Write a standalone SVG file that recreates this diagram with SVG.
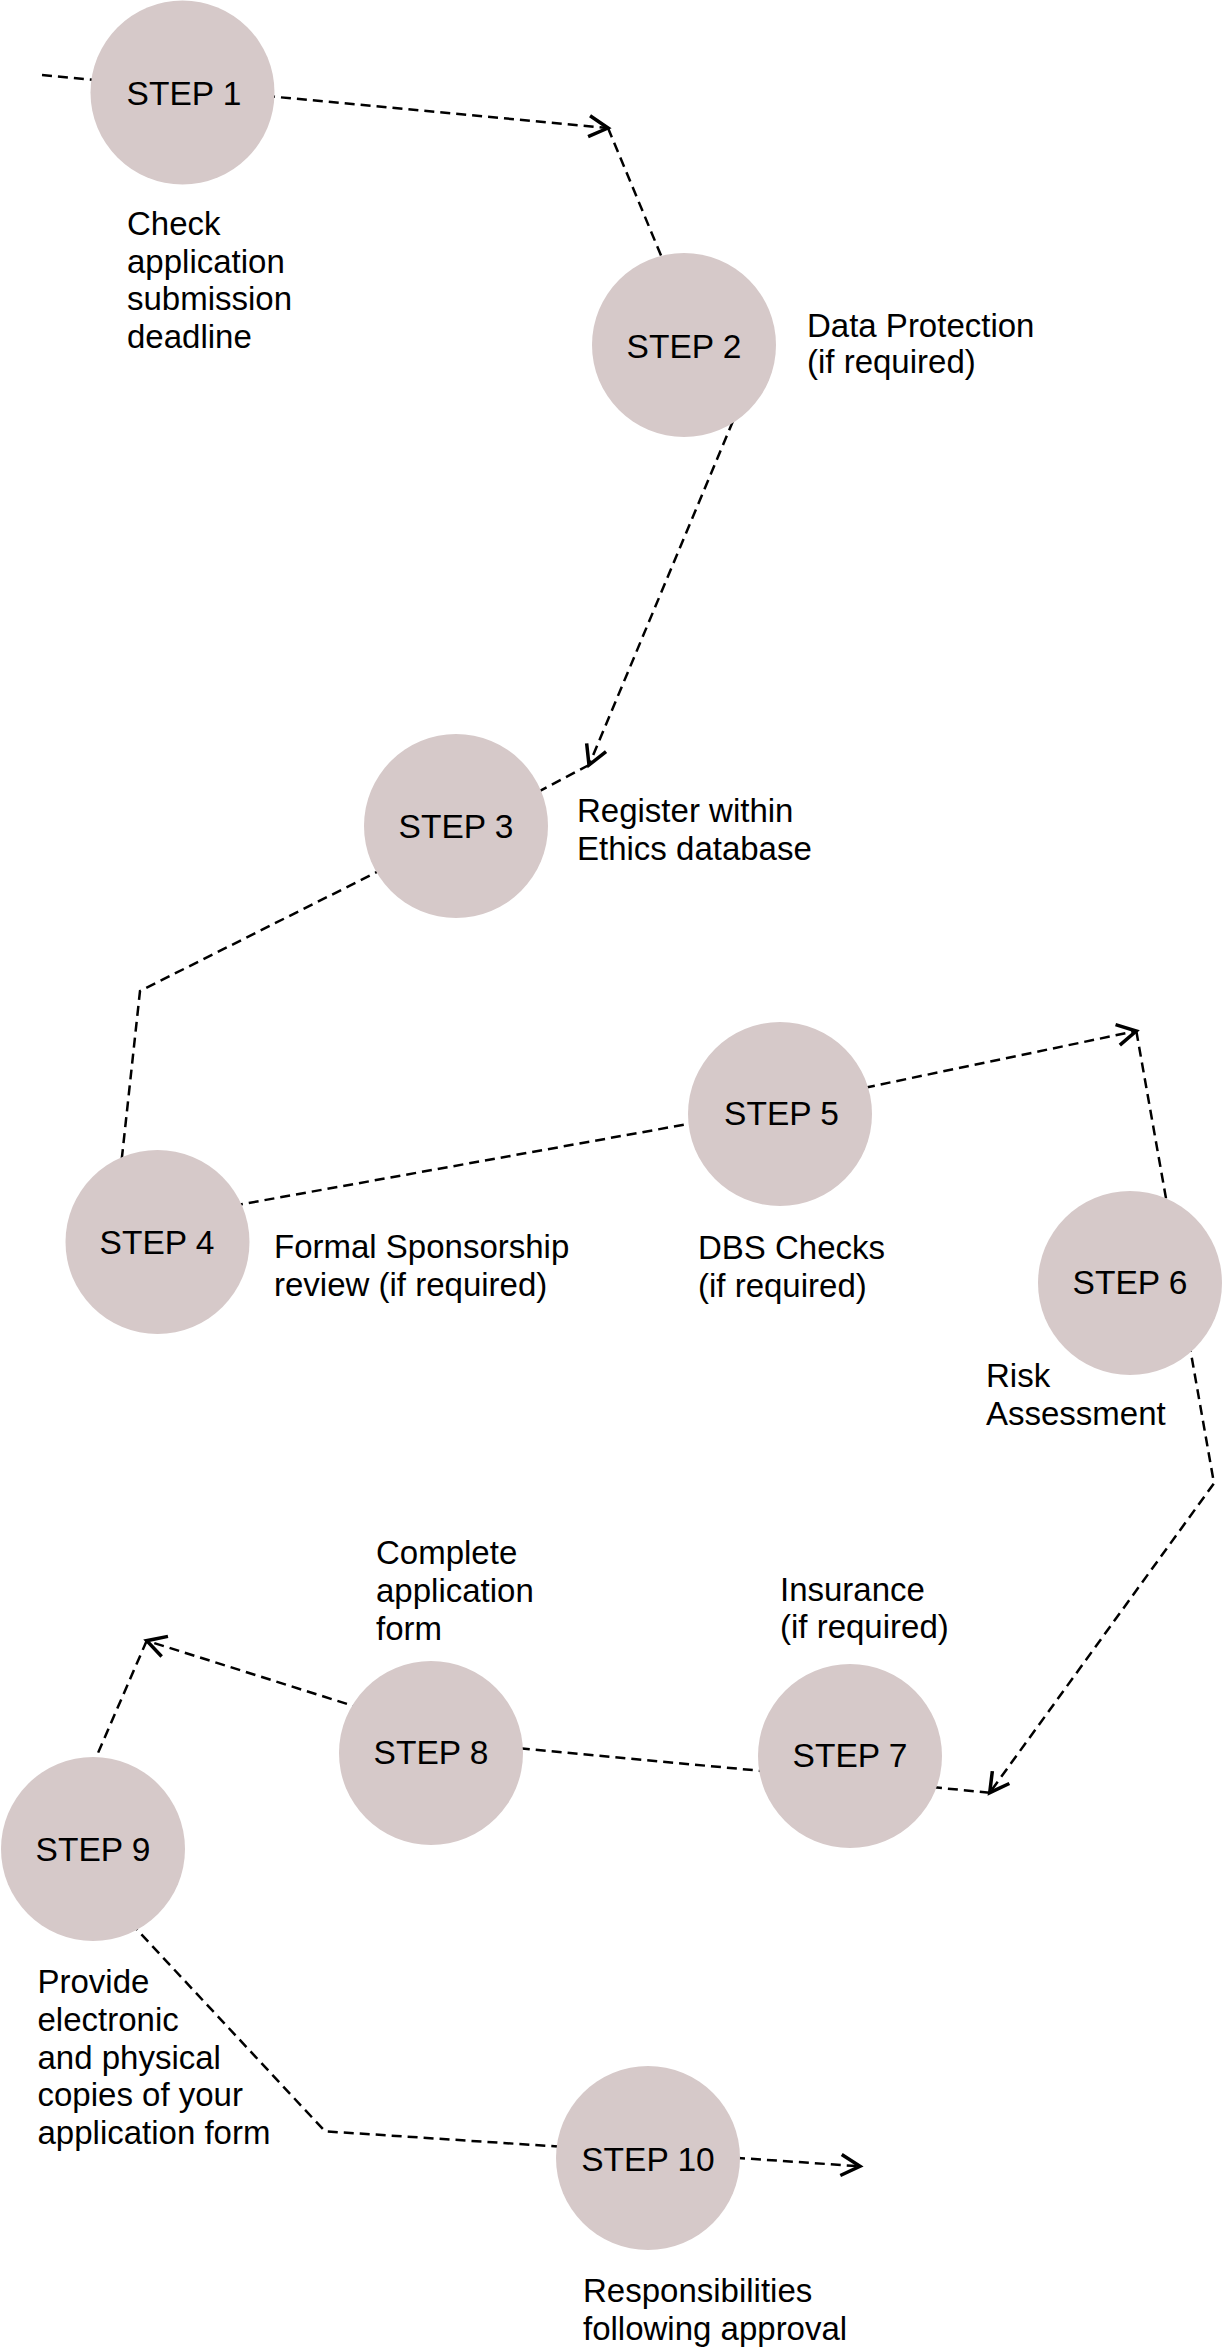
<svg xmlns="http://www.w3.org/2000/svg" width="1223" height="2348" viewBox="0 0 1223 2348">
<style>
  .bg { fill: #ffffff; }
  .node circle { fill: #d6c9c9; }
  .step { font-family: "Liberation Sans", Arial, sans-serif; font-size: 33.5px; fill: #000; text-anchor: middle; }
  .lbl { font-family: "Liberation Sans", Arial, sans-serif; font-size: 33px; fill: #000; }
  .conn { fill: none; stroke: #000; stroke-width: 2.5; stroke-dasharray: 10 6; }
  .arr { marker-end: url(#chev); }
</style>
<defs>
  <marker id="chev" markerUnits="userSpaceOnUse" viewBox="-24 -14 28 28" refX="0" refY="0" markerWidth="28" markerHeight="28" orient="auto" overflow="visible">
    <path d="M -19 -10.5 L 0 0 L -19 10.5" fill="none" stroke="#000" stroke-width="3.5" stroke-dasharray="none" stroke-linecap="butt" stroke-linejoin="miter"/>
  </marker>
</defs>
<rect class="bg" x="0" y="0" width="1223" height="2348"/>
<g id="connectors">
  <path class="conn arr" d="M 42 75 L 608 128"/>
  <path class="conn" d="M 608 128 L 665 265"/>
  <path class="conn arr" d="M 733 421 L 589 765"/>
  <path class="conn" d="M 589 765 L 536 793"/>
  <path class="conn" d="M 384 868.5 L 140 991 L 121 1166"/>
  <path class="conn" d="M 233 1205.8 L 698 1122.2"/>
  <path class="conn arr" d="M 865 1087.7 L 1136.3 1031"/>
  <path class="conn" d="M 1136.3 1031 L 1166.4 1200.6"/>
  <path class="conn arr" d="M 1189 1342 L 1214 1483.3 L 989.7 1792.7"/>
  <path class="conn" d="M 989.7 1792.7 L 931 1787"/>
  <path class="conn" d="M 768.7 1771.6 L 517 1748"/>
  <path class="conn arr" d="M 362.2 1708.7 L 146.7 1640.7"/>
  <path class="conn" d="M 146.7 1640.7 L 92.7 1765.2"/>
  <path class="conn" d="M 130.5 1922.7 L 325 2131.3 L 565 2147"/>
  <path class="conn arr" d="M 735 2157.7 L 860 2166.3"/>
</g>
<g id="step1" class="node">
  <circle cx="182.5" cy="92.5" r="92"/>
  <text class="step" x="184" y="105">STEP 1</text>
  <text class="lbl" x="127" y="235">Check</text>
  <text class="lbl" x="127" y="272.7">application</text>
  <text class="lbl" x="127" y="310.4">submission</text>
  <text class="lbl" x="127" y="348">deadline</text>
</g>
<g id="step2" class="node">
  <circle cx="684" cy="345" r="92"/>
  <text class="step" x="684" y="358">STEP 2</text>
  <text class="lbl" x="807" y="336.5">Data Protection</text>
  <text class="lbl" x="807" y="373">(if required)</text>
</g>
<g id="step3" class="node">
  <circle cx="456" cy="826" r="92"/>
  <text class="step" x="456" y="838">STEP 3</text>
  <text class="lbl" x="577" y="822">Register within</text>
  <text class="lbl" x="577" y="860">Ethics database</text>
</g>
<g id="step4" class="node">
  <circle cx="157.5" cy="1242" r="92"/>
  <text class="step" x="157" y="1254">STEP 4</text>
  <text class="lbl" x="274" y="1257.5">Formal Sponsorship</text>
  <text class="lbl" x="274" y="1296">review (if required)</text>
</g>
<g id="step5" class="node">
  <circle cx="780" cy="1114" r="92"/>
  <text class="step" x="781.5" y="1125">STEP 5</text>
  <text class="lbl" x="698" y="1259">DBS Checks</text>
  <text class="lbl" x="698" y="1297">(if required)</text>
</g>
<g id="step6" class="node">
  <circle cx="1130" cy="1283" r="92"/>
  <text class="step" x="1130" y="1294">STEP 6</text>
  <text class="lbl" x="986" y="1387">Risk</text>
  <text class="lbl" x="986" y="1425">Assessment</text>
</g>
<g id="step7" class="node">
  <circle cx="850" cy="1756" r="92"/>
  <text class="step" x="850" y="1767">STEP 7</text>
  <text class="lbl" x="780" y="1601">Insurance</text>
  <text class="lbl" x="780" y="1638">(if required)</text>
</g>
<g id="step8" class="node">
  <circle cx="431" cy="1753" r="92"/>
  <text class="step" x="431" y="1764">STEP 8</text>
  <text class="lbl" x="376" y="1564">Complete</text>
  <text class="lbl" x="376" y="1602">application</text>
  <text class="lbl" x="376" y="1640">form</text>
</g>
<g id="step9" class="node">
  <circle cx="93" cy="1849" r="92"/>
  <text class="step" x="93" y="1861">STEP 9</text>
  <text class="lbl" x="37.5" y="1993">Provide</text>
  <text class="lbl" x="37.5" y="2030.8">electronic</text>
  <text class="lbl" x="37.5" y="2068.6">and physical</text>
  <text class="lbl" x="37.5" y="2106.4">copies of your</text>
  <text class="lbl" x="37.5" y="2144">application form</text>
</g>
<g id="step10" class="node">
  <circle cx="648" cy="2158" r="92"/>
  <text class="step" x="648" y="2171">STEP 10</text>
  <text class="lbl" x="583" y="2302">Responsibilities</text>
  <text class="lbl" x="583" y="2340">following approval</text>
</g>
</svg>
